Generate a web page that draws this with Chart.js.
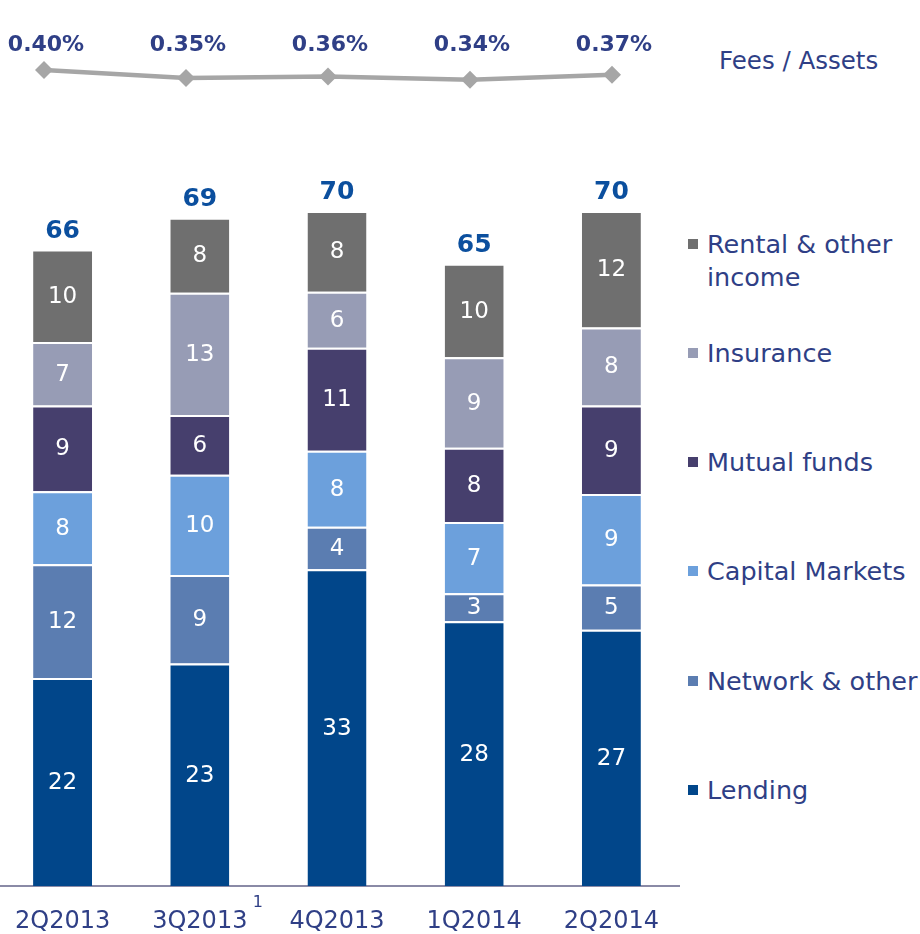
<!DOCTYPE html>
<html>
<head>
<meta charset="utf-8">
<script src="https://cdn.jsdelivr.net/npm/chart.js@4/dist/chart.umd.min.js"></script>
<style>
    html, body { margin: 0; padding: 0; background: #fff; }
    body { width: 920px; height: 934px; position: relative; overflow: hidden; font-family: "DejaVu Sans", sans-serif; }
    #barChart { position: absolute; left: -6px; top: 0; }
    #lineChart { position: absolute; left: 0; top: 0; }
    .fees-label { position: absolute; left: 719px; top: 46px; font-size: 24.5px; line-height: 30px; color: #2F3F86; }
    .legend-item { position: absolute; left: 688px; font-size: 25.5px; line-height: 33px; color: #2F3F86; white-space: nowrap; }
    .legend-item i { position: absolute; left: 0; top: 11px; width: 10px; height: 10px; }
    .legend-item span { display: block; margin-left: 19px; }
</style>
</head>
<body>
<canvas id="barChart" width="686" height="934"></canvas>
<canvas id="lineChart" width="680" height="140"></canvas>
<div class="fees-label">Fees / Assets</div>
<div id="legend"></div>

<script>
// ---------- data ----------

const quarters = ["2Q2013", "3Q2013", "4Q2013", "1Q2014", "2Q2014"];

// fees / assets ratio, shown as %
const feeRatio = [0.40, 0.35, 0.36, 0.34, 0.37];

// segments bottom -> top (labels show rounded value)
const lending = [21.6, 23.1, 32.9, 27.5, 26.6];
const network = [11.8, 9.2, 4.4, 2.9, 4.7];
const capitalMarkets = [7.6, 10.4, 7.9, 7.4, 9.4];
const mutualFunds = [8.9, 6.2, 10.7, 7.7, 9.2];
const insurance = [6.6, 12.7, 5.8, 9.4, 8.1];
const rental = [9.6, 7.8, 8.4, 9.7, 12.1];

const totals = [66, 69, 70, 65, 70];

const seriesNames = ["Lending", "Network & other", "Capital Markets", "Mutual funds", "Insurance", "Rental & other income"];
const seriesColors = ["#01468A", "#5B7DB1", "#6CA0DC", "#463F6D", "#979CB5", "#6F6F6F"];
const seriesData = [lending, network, capitalMarkets, mutualFunds, insurance, rental];

const navy = "#2F3F86";

// ---------- labels on the bars ----------

const barLabels = {
    id: "barLabels",
    afterDatasetsDraw(chart) {
        const ctx = chart.ctx;
        ctx.save();
        ctx.textAlign = "center";
        ctx.textBaseline = "middle";

        ctx.font = '23px "DejaVu Sans"';
        ctx.fillStyle = "#fff";
        chart.data.datasets.forEach((ds, di) => {
            chart.getDatasetMeta(di).data.forEach((bar, i) => {
                const p = bar.getProps(["x", "y", "base"], true);
                ctx.fillText(Math.round(ds.data[i]), p.x, (p.y + p.base) / 2 + 1);
            });
        });

        // totals above each stack
        const topMeta = chart.getDatasetMeta(chart.data.datasets.length - 1);
        ctx.font = 'bold 25px "DejaVu Sans"';
        ctx.fillStyle = "#0B4F9E";
        topMeta.data.forEach((bar, i) => {
            const p = bar.getProps(["x", "y"], true);
            ctx.fillText(totals[i], p.x, p.y - 18);
        });

        // footnote marker on 3Q2013
        const xs = chart.scales.x;
        ctx.font = '16px "DejaVu Sans"';
        ctx.fillStyle = navy;
        ctx.fillText("1", xs.getPixelForValue(1) + 58, 903);

        ctx.restore();
    }
};

new Chart(document.getElementById("barChart"), {
    type: "bar",
    data: {
        labels: quarters,
        datasets: seriesData.map((d, i) => ({
            label: seriesNames[i],
            data: d,
            backgroundColor: seriesColors[i],
            borderColor: "#fff",
            borderWidth: { top: 2, bottom: 0, left: 0, right: 0 },
            borderSkipped: false,
            categoryPercentage: 1,
            barPercentage: 0.43
        }))
    },
    options: {
        responsive: false,
        animation: false,
        layout: { padding: 0 },
        plugins: { legend: { display: false }, tooltip: { enabled: false } },
        scales: {
            x: {
                stacked: true,
                grid: { display: false, drawTicks: false },
                border: { display: true, color: "#8A8AA6", width: 2 },
                ticks: { color: navy, padding: 21, font: { family: "DejaVu Sans", size: 24 } },
                afterFit: (scale) => { scale.height = 48; }
            },
            y: { stacked: true, display: false, min: 0, max: 92 }
        }
    },
    plugins: [barLabels]
});

// ---------- fees / assets line ----------

const ratioLabels = {
    id: "ratioLabels",
    afterDatasetsDraw(chart) {
        const ctx = chart.ctx;
        ctx.save();
        ctx.textAlign = "center";
        ctx.textBaseline = "middle";
        ctx.font = 'bold 22px "DejaVu Sans"';
        ctx.fillStyle = navy;
        // labels sit in one row above the line
        chart.getDatasetMeta(0).data.forEach((pt, i) => {
            ctx.fillText(feeRatio[i].toFixed(2) + "%", pt.x + 2, 45);
        });
        ctx.restore();
    }
};

new Chart(document.getElementById("lineChart"), {
    type: "line",
    data: {
        labels: quarters,
        datasets: [{
            data: feeRatio,
            borderColor: "#A6A6A6",
            borderWidth: 4.5,
            pointStyle: "rectRot",
            pointRadius: 9,
            pointBackgroundColor: "#A6A6A6",
            pointBorderWidth: 0,
            tension: 0,
            clip: false
        }]
    },
    options: {
        responsive: false,
        animation: false,
        layout: { padding: { left: 44, right: 68, top: 0, bottom: 0 } },
        plugins: { legend: { display: false }, tooltip: { enabled: false } },
        scales: {
            x: { display: false, offset: false },
            y: { display: false, min: 0.02, max: 0.78 }
        }
    },
    plugins: [ratioLabels]
});

// ---------- legend (top item = top segment) ----------

const legend = document.getElementById("legend");
const order = seriesNames.map((n, i) => i).reverse();
order.forEach((si, row) => {
    const centerY = 244 + row * 109.3;
    const item = document.createElement("div");
    item.className = "legend-item";
    item.style.top = (centerY - 16.5) + "px";
    const name = seriesNames[si].replace("other income", "other<br>income");
    item.innerHTML = `<i style="background:${seriesColors[si]}"></i><span>${name}</span>`;
    legend.appendChild(item);
});
</script>
</body>
</html>
